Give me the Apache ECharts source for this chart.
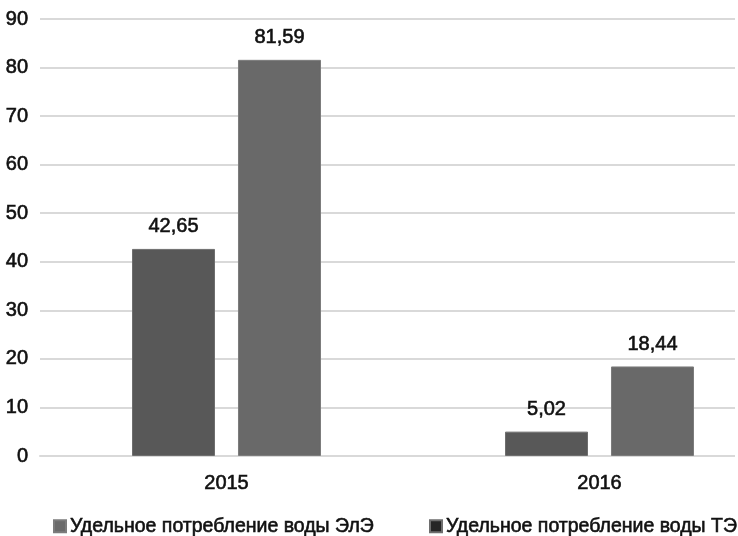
<!DOCTYPE html>
<html>
<head>
<meta charset="utf-8">
<script src="https://cdn.jsdelivr.net/npm/echarts@6/dist/echarts.min.js"></script>
<style>
  html, body { margin: 0; padding: 0; background: #fff; }
  #chart { width: 738px; height: 536px; }
</style>
</head>
<body>
<div id="chart"></div>
<script>
// Specific water consumption by year
const years = ['2015', '2016'];
const nameTE = 'Удельное потребление воды ТЭ';
const nameElE = 'Удельное потребление воды ЭлЭ';
const valuesTE = [42.65, 5.02];
const valuesElE = [81.59, 18.44];
const yTicks = [0, 10, 20, 30, 40, 50, 60, 70, 80, 90];

const font = 'Liberation Sans';
const textColor = '#111111';
// thin outline in the text colour gives the labels a semi-bold weight
const heavy = { textBorderColor: '#111111', textBorderWidth: 0.6 };
const fmt = v => v.toFixed(2).replace('.', ',');

const chart = echarts.init(document.getElementById('chart'), null, { renderer: 'canvas' });

const legendText = Object.assign({ fontFamily: font, fontSize: 19.5, color: textColor, padding: [0, 0, 0, -1] }, heavy);

chart.setOption({
  animation: false,
  backgroundColor: '#ffffff',
  grid: { left: 40, width: 746, top: 19, bottom: 80, containLabel: false, outerBoundsMode: 'none' },
  legend: [
    {
      left: 53, top: 516, padding: 0,
      itemWidth: 12, itemHeight: 12, itemGap: 4,
      icon: 'rect',
      textStyle: legendText,
      data: [{ name: nameElE, itemStyle: { color: '#6a6a6a' } }]
    },
    {
      left: 429, top: 516, padding: 0,
      itemWidth: 12, itemHeight: 12, itemGap: 3,
      icon: 'rect',
      textStyle: legendText,
      data: [{ name: nameTE, itemStyle: { color: '#262626' } }]
    }
  ],
  xAxis: {
    type: 'category',
    data: years,
    axisLine: { lineStyle: { color: '#d9d9d9', width: 2 } },
    axisTick: { show: false },
    axisLabel: Object.assign({ fontFamily: font, fontSize: 20, color: textColor, margin: 17 }, heavy)
  },
  yAxis: {
    type: 'value',
    min: yTicks[0],
    max: yTicks[yTicks.length - 1],
    interval: 10,
    axisLine: { show: false },
    axisTick: { show: false },
    splitLine: { lineStyle: { color: '#d9d9d9', width: 2 } },
    axisLabel: Object.assign({ fontFamily: font, fontSize: 20, color: textColor, margin: 12 }, heavy)
  },
  series: [
    {
      name: nameTE,
      type: 'bar',
      data: valuesTE,
      barWidth: 83,
      barGap: '27.7%',
      itemStyle: { color: '#585858', borderColor: '#6e6e6e', borderWidth: 1 },
      label: Object.assign({
        show: true, position: 'top', distance: 12,
        fontFamily: font, fontSize: 20, color: textColor,
        formatter: p => fmt(p.value)
      }, heavy)
    },
    {
      name: nameElE,
      type: 'bar',
      data: valuesElE,
      barWidth: 83,
      barGap: '27.7%',
      itemStyle: { color: '#696969', borderColor: '#7c7c7c', borderWidth: 1 },
      label: Object.assign({
        show: true, position: 'top', distance: 12,
        fontFamily: font, fontSize: 20, color: textColor,
        formatter: p => fmt(p.value)
      }, heavy)
    }
  ],
  graphic: [
    { type: 'rect', right: 0, top: 0, shape: { width: 3, height: 470 }, style: { fill: '#ffffff' }, z: 100 }
  ]
});
</script>
</body>
</html>
